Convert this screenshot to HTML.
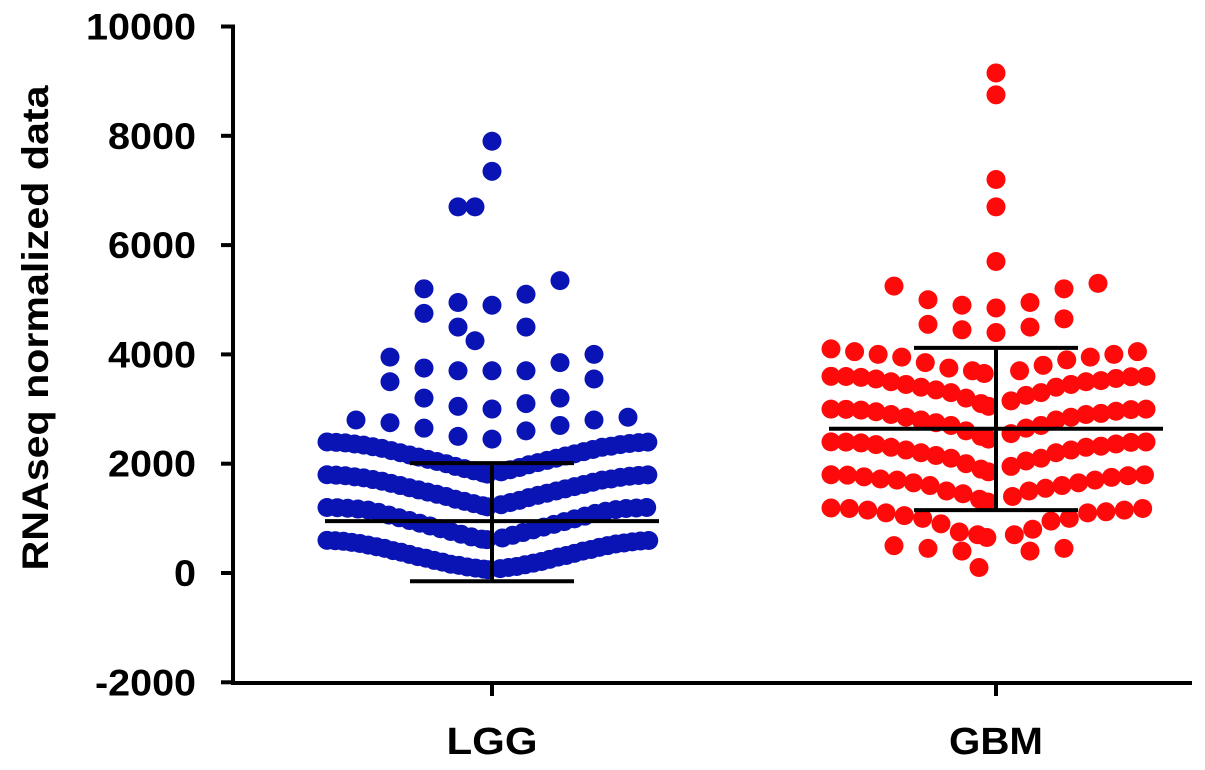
<!DOCTYPE html>
<html><head><meta charset="utf-8">
<style>
html,body{margin:0;padding:0;background:#fff;}
svg text{font-family:"Liberation Sans",Arial,sans-serif;font-weight:bold;}
</style></head>
<body>
<svg id="chart" width="1205" height="765" viewBox="0 0 1205 765" xmlns="http://www.w3.org/2000/svg">
<g id="axes"></g>
<g id="dots"></g>
<g id="stats"></g>
</svg>
<script>
const categories = ["LGG", "GBM"];
const yTicks = [-2000, 0, 2000, 4000, 6000, 8000, 10000];
const lggValues = [
 60,70,80,90,100,110,120,140,150,160,180,200,210,230,250,270,290,300,320,340,360,380,400,410,430,450,470,480,500,510,530,540,550,560,570,580,585,590,595,598,
 610,620,640,660,690,710,740,760,790,810,840,860,890,910,940,960,990,1010,1040,1060,1090,1110,1130,1150,1160,1170,1180,1185,1190,1195,1198,1199,
 1210,1230,1250,1270,1290,1310,1330,1350,1380,1400,1420,1440,1460,1480,1500,1520,1540,1560,1580,1600,1620,1640,1660,1680,1700,1710,1720,1740,1750,1760,1770,1780,1785,1790,1795,1798,
 1810,1830,1850,1870,1890,1910,1930,1950,1980,2000,2020,2040,2060,2080,2100,2120,2140,2160,2180,2200,2220,2240,2260,2280,2300,2310,2320,2340,2350,2360,2370,2380,2385,2390,2395,2398,
 2450,2500,2600,2650,2700,2750,2800,2800,2850,3000,
 3050,3100,3200,3200,3500,3550,
 3700,3700,3700,3750,3850,3950,4000,
 4250,4500,4500,4750,
 4900,4950,5100,5200,5350,
 6700,6700,7350,7900
];
const gbmValues = [
 100,400,400,450,450,500,
 650,700,700,750,800,900,950,1000,1000,1050,1100,1100,1120,1150,1150,1180,1180,1190,
 1300,1350,1400,1450,1500,1500,1550,1600,1600,1650,1650,1700,1700,1720,1750,1760,1780,1790,1795,1798,
 1850,1900,1950,2000,2050,2100,2100,2150,2200,2200,2250,2250,2300,2300,2320,2350,2360,2380,2390,2395,2398,2399,
 2450,2500,2550,2600,2650,2700,2700,2750,2800,2800,2850,2850,2900,2900,2920,2950,2960,2980,2990,2995,2998,2999,
 3050,3100,3150,3200,3250,3300,3300,3350,3400,3400,3450,3450,3500,3500,3520,3550,3560,3580,3590,3595,3598,3599,
 3650,3700,3700,3750,3800,3850,3900,3950,3950,4000,4000,4050,4050,4100,
 4400,4450,4500,4550,4650,
 4850,4900,4950,5000,5200,5250,5300,
 5700,6700,7200,8750,9150
];
const means = [950, 2640];
const sdLow = [-150, 1150];
const sdHigh = [2010, 4120];
const colors = ["#0a14b4", "#ff0a0a"];

const NS = "http://www.w3.org/2000/svg";
const y0 = 573, pxPerUnit = 0.05465;
function yScale(v){ return y0 - v * pxPerUnit; }
const xCenters = [492, 996];
function xScale(i){ return xCenters[i]; }
function mk(tag, attrs, parent){ const e=document.createElementNS(NS,tag); for(const k in attrs) e.setAttribute(k, attrs[k]); parent.appendChild(e); return e; }

const axes = document.getElementById('axes');
const yAxis = mk('line',{x1:233,y1:yScale(10000)-2,x2:233,y2:685,stroke:'#000','stroke-width':4},axes);


const xAxis = mk('line',{x1:231,y1:683,x2:1192,y2:683,stroke:'#000','stroke-width':4},axes);


yTicks.forEach(t=>{
  const y=yScale(t);
  const tk=mk('line',{x1:221,y1:y,x2:233,y2:y,stroke:'#000','stroke-width':4},axes);
  
  
  const s=String(t);
  const w=s.replace('-','').length*22+(s[0]==='-'?13:0);
  const lb=mk('text',{x:196,y:y+13,'text-anchor':'end','font-size':37,textLength:w,lengthAdjust:'spacingAndGlyphs'},axes);
  lb.textContent=t;
  
  
});
categories.forEach((c,i)=>{
  const x=xScale(i);
  const tk=mk('line',{x1:x,y1:683,x2:x,y2:696,stroke:'#000','stroke-width':4},axes);
  
  
  const lb=mk('text',{x:x,y:754,'text-anchor':'middle','font-size':38,textLength:c==='LGG'?91:94,lengthAdjust:'spacingAndGlyphs'},axes);
  lb.textContent=c;
  
  
});
const yt=mk('text',{x:0,y:0,'text-anchor':'middle','font-size':37,textLength:485,lengthAdjust:'spacingAndGlyphs',transform:'translate(48,328) rotate(-90)'},axes);
yt.textContent='RNAseq normalized data';



const dots=document.getElementById('dots');
function drawGroup(vals, gi){
  const bins={};
  vals.forEach(v=>{ const b=Math.floor(v/600); (bins[b]=bins[b]||[]).push(v); });
  Object.keys(bins).forEach(b=>{
    const arr=bins[b].slice().sort((a,c)=>a-c);
    const sp=Math.min(34, 330/arr.length);
    arr.forEach((v,i)=>{
      const k=Math.ceil(i/2), sgn=(i%2===1)?-1:1;
      const off=(arr.length%2===0)? (sgn*k*sp + sp/2*(i===0?-1:0)) : sgn*k*sp;
      const c=mk('circle',{cx:xScale(gi)+off,cy:yScale(v),r:9.5,fill:colors[gi]},dots);
      
      
    });
  });
}
drawGroup(lggValues,0);
drawGroup(gbmValues,1);

const stats=document.getElementById('stats');
categories.forEach((c,i)=>{
  const x=xScale(i);
  const m=mk('line',{x1:x-167,y1:yScale(means[i]),x2:x+167,y2:yScale(means[i]),stroke:'#000','stroke-width':4},stats);
  
  
  const v=mk('line',{x1:x,y1:yScale(sdLow[i]),x2:x,y2:yScale(sdHigh[i]),stroke:'#000','stroke-width':4},stats);
  
  
  [sdLow[i],sdHigh[i]].forEach(s=>{
    const cap=mk('line',{x1:x-82,y1:yScale(s),x2:x+82,y2:yScale(s),stroke:'#000','stroke-width':4},stats);
    
    
  });
});
</script>
</body></html>
